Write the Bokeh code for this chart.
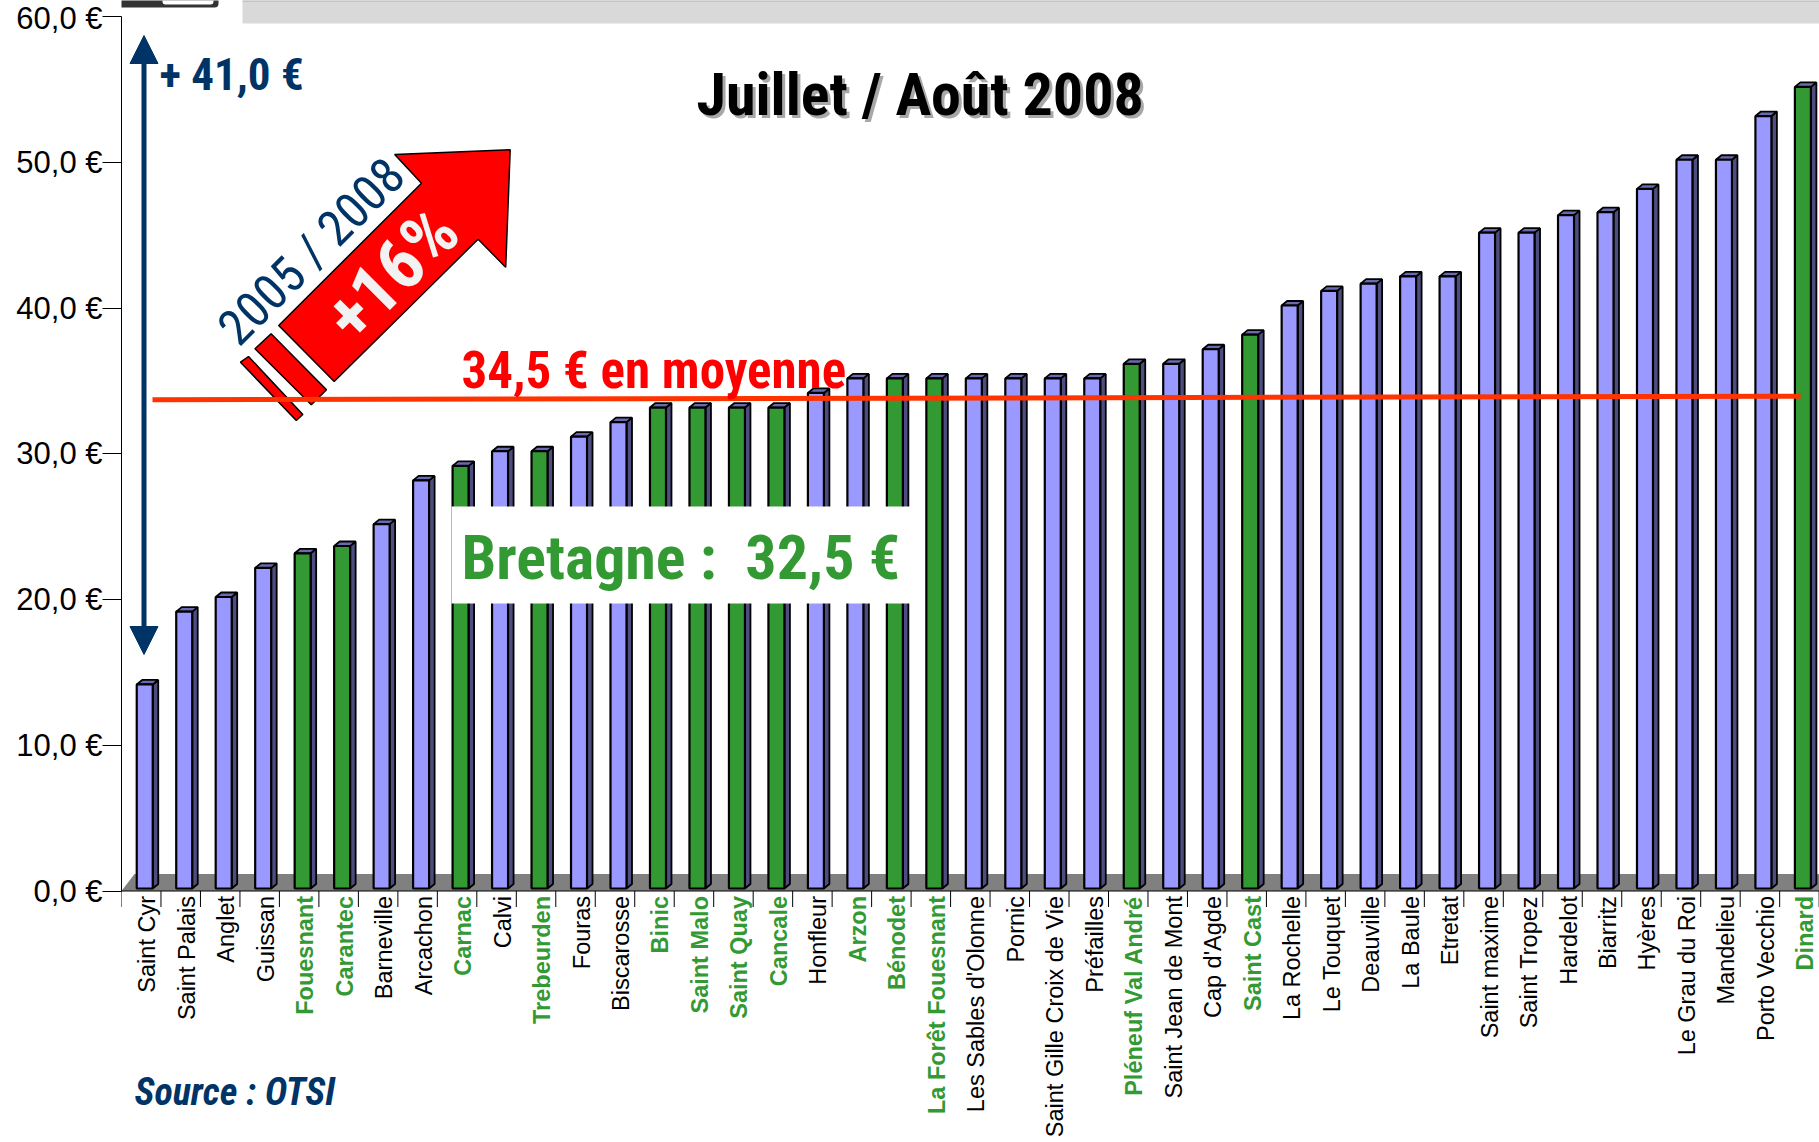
import math
from bokeh.plotting import figure
from bokeh.models import Range1d, FixedTicker, Label, BoxAnnotation, Arrow, NormalHead
from bokeh.embed import file_html
from bokeh.resources import INLINE
from bokeh.core.properties import value

# ---------------- data ----------------
towns = ["Saint Cyr", "Saint Palais", "Anglet", "Guissan", "Fouesnant", "Carantec",
         "Barneville", "Arcachon", "Carnac", "Calvi", "Trebeurden", "Fouras",
         "Biscarosse", "Binic", "Saint Malo", "Saint Quay", "Cancale", "Honfleur",
         "Arzon", "Bénodet", "La Forêt Fouesnant", "Les Sables d'Olonne", "Pornic",
         "Saint Gille Croix de Vie", "Préfailles", "Pléneuf Val André",
         "Saint Jean de Mont", "Cap d'Agde", "Saint Cast", "La Rochelle", "Le Touquet",
         "Deauville", "La Baule", "Etretat", "Saint maxime", "Saint Tropez", "Hardelot",
         "Biarritz", "Hyères", "Le Grau du Roi", "Mandelieu", "Porto Vecchio", "Dinard"]
prices = [14, 19, 20, 22, 23, 23.5, 25, 28, 29, 30, 30, 31, 32, 33, 33, 33, 33, 34,
          35, 35, 35, 35, 35, 35, 35, 36, 36, 37, 38, 40, 41, 41.5, 42, 42, 45, 45,
          46.2, 46.4, 48, 50, 50, 53, 55]
bretagne_label = [0, 0, 0, 0, 1, 1, 0, 0, 1, 0, 1, 0, 0, 1, 1, 1, 1, 0, 1, 1, 1, 0,
                  0, 0, 0, 1, 0, 0, 1, 0, 0, 0, 0, 0, 0, 0, 0, 0, 0, 0, 0, 0, 1]
bretagne_bar = [0, 0, 0, 0, 1, 1, 0, 0, 1, 0, 1, 0, 0, 1, 1, 1, 1, 0, 0, 1, 1, 0,
                0, 0, 0, 1, 0, 0, 1, 0, 0, 0, 0, 0, 0, 0, 0, 0, 0, 0, 0, 0, 1]
y_ticks = [0, 10, 20, 30, 40, 50, 60]
y_tick_labels = ["0,0 €", "10,0 €", "20,0 €", "30,0 €", "40,0 €", "50,0 €", "60,0 €"]
mean_line_level = [33.7, 33.95]
title_text = "Juillet / Août 2008"
spread_text = "+ 41,0 €"
mean_text = "34,5 € en moyenne"
bretagne_text = "Bretagne :\u00a0 32,5 €"
period_text = "2005 / 2008"
growth_text = "+16%"
source_text = "Source : OTSI"

# ---------------- geometry ----------------
W, H = 1819, 1142
LEFT = 121
SX = 39.48
SY = 14.575
Y0_FIG = 890.5
n = len(towns)
x_start = -0.5
x_end = x_start + (W - LEFT) / SX
y_end = Y0_FIG / SY
y_start = -(H - Y0_FIG) / SY


def X(px):
    return x_start + (px - LEFT) / SX


def Y(py):
    return (Y0_FIG - py) / SY


NARROW = "Roboto Condensed"
BLUE = "#9999ff"
GREEN = "#339933"
NAVY = "#003366"

p = figure(width=W, height=H, x_range=Range1d(x_start, x_end),
           y_range=Range1d(y_start, y_end), output_backend="svg",
           toolbar_location=None, x_axis_location=None,
           min_border_left=LEFT, min_border_right=0, min_border_top=0,
           min_border_bottom=0, outline_line_color=None,
           background_fill_color="white", border_fill_color="white")
p.grid.visible = False

ax = p.yaxis[0]
ax.ticker = FixedTicker(ticks=y_ticks)
ax.major_label_overrides = {t: l for t, l in zip(y_ticks, y_tick_labels)}
ax.bounds = (0, 60)
ax.minor_tick_line_color = None
ax.major_tick_out = 19
ax.major_tick_in = 0
ax.major_label_standoff = 0
ax.axis_line_color = "black"
ax.major_tick_line_color = "black"
ax.major_label_text_font = "Liberation Sans"
ax.major_label_text_font_size = "31px"
ax.major_label_text_color = "black"

# slide decorations at the top edge
p.quad(left=[X(242)], right=[x_end + 1], top=[y_end + 1], bottom=[Y(23)],
       fill_color="#d9d9d9", line_color=None)
p.quad(left=[X(242)], right=[x_end + 1], top=[y_end + 1], bottom=[Y(1.5)],
       fill_color="#c4c4cc", line_color=None)
p.add_layout(BoxAnnotation(left=X(28), right=X(218), top=y_end + 1, bottom=Y(7),
                           fill_color="#333333", fill_alpha=1.0, line_alpha=0,
                           border_radius=4))
p.add_layout(BoxAnnotation(left=X(162), right=X(213), top=y_end + 1, bottom=Y(4),
                           fill_color="white", fill_alpha=1.0, line_alpha=0,
                           border_radius=3))

# floor
floor_dx = 13 / SX
floor_dy = 17 / SY
p.patch(x=[x_start, x_start + floor_dx, x_end + 1, x_end + 1],
        y=[0, floor_dy, floor_dy, 0], fill_color="#808080", line_color=None)

# 3D bars
lift = 2.5 / SY
off = 3.5 / SX
hw = 8 / SX
ddx = 5.5 / SX
ddy = 4.5 / SY
lefts = [i + off - hw for i in range(n)]
rights = [i + off + hw for i in range(n)]
tops = [v + lift for v in prices]
side_xs = [[r, r + ddx, r + ddx, r] for r in rights]
side_ys = [[lift, lift + ddy, t + ddy, t] for t in tops]
cap_xs = [[l, l + ddx, r + ddx, r] for l, r in zip(lefts, rights)]
cap_ys = [[t, t + ddy, t + ddy, t] for t in tops]
p.patches(side_xs, side_ys, fill_color="#4d4d80", line_color="black", line_width=1.8)
p.patches(cap_xs, cap_ys, fill_color="#6a6ab0", line_color="black", line_width=1.8)
p.quad(left=lefts, right=rights, bottom=lift, top=tops,
       fill_color=[GREEN if b else BLUE for b in bretagne_bar],
       line_color="black", line_width=2.2)

# x axis line and category separators
p.segment(x0=[x_start], y0=[0], x1=[x_end], y1=[0], line_color="black", line_width=1.2)
bounds = [i - 0.5 for i in range(n + 1)]
p.segment(x0=bounds, y0=[0] * len(bounds), x1=bounds, y1=[-16 / SY] * len(bounds),
          line_color="black", line_width=1)

# category labels
idx_b = [i for i in range(n) if bretagne_label[i]]
idx_o = [i for i in range(n) if not bretagne_label[i]]
p.text(x=idx_o, y=[0] * len(idx_o), text=[towns[i] for i in idx_o],
       angle=math.pi / 2, text_align="right", text_baseline="middle",
       x_offset=6, y_offset=5,
       text_font=value("Liberation Sans"), text_font_size="23.5px", text_color="black")
p.text(x=idx_b, y=[0] * len(idx_b), text=[towns[i] for i in idx_b],
       angle=math.pi / 2, text_align="right", text_baseline="middle",
       x_offset=6, y_offset=5,
       text_font=value("Liberation Sans"), text_font_size="23.5px",
       text_font_style="bold", text_color=GREEN)

# red growth arrow
arrow_pts = [(509.7, 149.3), (505.2, 266.7), (477.6, 238.7), (333.7, 381),
             (278.2, 325), (421, 182.7), (394.2, 154)]
strip1 = [(270.6, 333.3), (326, 389.3), (310.8, 404.3), (254.5, 348.3)]
strip2 = [(248, 356), (302.3, 414), (295.8, 420), (240, 361.7)]
p.patches([[X(a) for a, b in s] for s in (arrow_pts, strip1, strip2)],
          [[Y(b) for a, b in s] for s in (arrow_pts, strip1, strip2)],
          fill_color="#ff0000", line_color="black", line_width=1.5)

# average line
p.line(x=[X(152), X(1800)], y=mean_line_level, line_color="#ff3300", line_width=5)

# white box behind the Bretagne average
p.add_layout(BoxAnnotation(left=X(451), right=X(911), top=Y(506), bottom=Y(603),
                           fill_color="white", fill_alpha=1.0, line_alpha=0))

# double arrow (spread)
p.add_layout(Arrow(x_start=X(143.5), y_start=Y(654), x_end=X(143.5), y_end=Y(35),
                   line_color=NAVY, line_width=5,
                   start=NormalHead(size=28, fill_color=NAVY, line_color=NAVY),
                   end=NormalHead(size=28, fill_color=NAVY, line_color=NAVY)))


def lab(text, px, py, size, color, style="bold", font=NARROW, angle=0.0,
        align="left"):
    p.add_layout(Label(x=X(px), y=Y(py), text=text, text_font=font,
                       text_font_size=size, text_font_style=style, text_color=color,
                       angle=angle, text_align=align, text_baseline="middle"))


lab(title_text, 699, 97, "60px", "#a8a8a8")
lab(title_text, 696, 94, "60px", "black")
lab(spread_text, 159, 74, "45px", NAVY)
lab(mean_text, 461, 370, "51px", "#ff0000")
lab(bretagne_text, 461, 557, "62px", GREEN)
lab(source_text, 134, 1091, "38px", NAVY, style="bold italic")
lab(period_text, 311, 251, "50px", NAVY, style="normal", angle=math.pi / 4,
    align="center")
lab(growth_text, 391, 273, "72px", "#f2f2f2", angle=math.pi / 4, align="center")

open("out.html", "w").write(file_html(p, INLINE))
